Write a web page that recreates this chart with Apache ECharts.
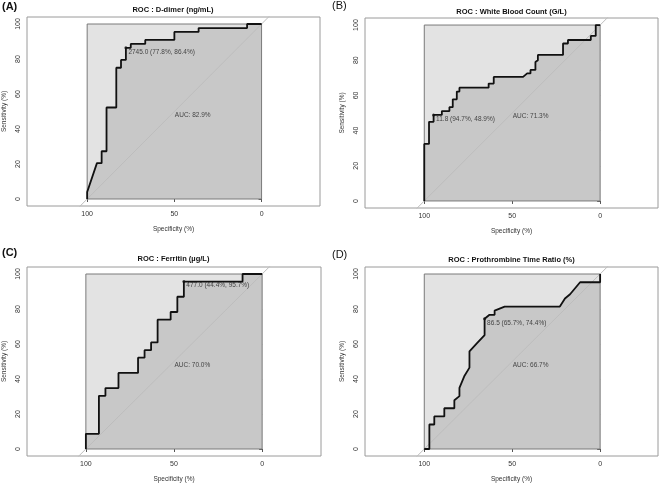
<!DOCTYPE html>
<html>
<head>
<meta charset="utf-8">
<title>ROC curves</title>
<script src="https://cdn.jsdelivr.net/npm/echarts@6/dist/echarts.min.js"></script>
<style>
  html, body { margin: 0; padding: 0; background: #fff; }
  #chart { width: 660px; height: 484px; }
</style>
</head>
<body>
<div id="chart"></div>
<script>
// panel labels / titles
const panelLabels = ['(A)', '(B)', '(C)', '(D)'];
const titles = [
  'ROC : D-dimer (ng/mL)',
  'ROC : White Blood Count (G/L)',
  'ROC : Ferritin (\u00b5g/L)',
  'ROC : Prothrombine Time Ratio (%)'
];

// ROC points: [specificity %, sensitivity %]
const rocDdimer = [
  [100, 0], [100, 4], [94.4, 20.5], [91.7, 20.5], [91.7, 27.3], [88.9, 27.3],
  [88.9, 52.3], [83.3, 52.3], [83.3, 75], [80.6, 75], [80.6, 79.5], [77.8, 79.5],
  [77.8, 86.4], [75, 86.4], [75, 88.6], [66.7, 88.6], [66.7, 90.9], [50, 90.9],
  [50, 95.5], [36.1, 95.5], [36.1, 97.7], [8.3, 97.7], [8.3, 100], [0, 100]
];
const rocWbc = [
  [100, 0], [100, 32.4], [97.3, 32.4], [97.3, 45], [94.7, 45], [94.7, 48.9],
  [90, 48.9], [90, 51.1], [85.7, 51.1], [85.7, 53.3], [83.8, 53.3], [83.8, 57.8],
  [81.5, 57.8], [81.5, 62.2], [80, 62.2], [80, 64.4], [63.4, 64.4], [63.4, 66.7],
  [60.5, 66.7], [60.5, 70.5], [43.8, 70.5], [41.5, 72.5], [39.6, 72.5], [39.6, 74.5],
  [36.8, 74.5], [36.8, 79], [35.4, 80], [35.4, 83], [21.1, 83], [21.1, 89.5],
  [18.3, 89.5], [18.3, 91.5], [5.3, 91.5], [5.3, 93.8], [2.5, 93.8], [2.5, 100], [0, 100]
];
const rocFerritin = [
  [100, 0], [100, 8.7], [92.6, 8.7], [92.6, 30.4], [88.9, 30.4], [88.9, 34.8],
  [81.5, 34.8], [81.5, 43.5], [70.4, 43.5], [70.4, 52.2], [66.7, 52.2], [66.7, 56.5],
  [63, 56.5], [63, 60.9], [59.3, 60.9], [59.3, 73.9], [51.9, 73.9], [51.9, 78.3],
  [48.1, 78.3], [48.1, 87], [44.4, 87], [44.4, 95.7], [11.1, 95.7], [11.1, 100], [0, 100]
];
const rocPt = [
  [100, 0], [97.1, 0], [97.1, 14], [94.3, 14], [94.3, 18.6], [88.6, 18.6],
  [88.6, 23.3], [82.9, 23.3], [82.9, 27.9], [80, 30.2], [80, 34.9], [77.1, 41.9],
  [74.3, 46.5], [74.3, 55.8], [70, 60.5], [65.7, 65.1], [65.7, 74.4], [62.9, 76.7],
  [60, 76.7], [60, 79.1], [54.3, 81.4], [22.9, 81.4], [20, 86], [17.1, 88.4],
  [11.4, 95.3], [0, 95.3], [0, 100]
];
const rocCurves = [rocDdimer, rocWbc, rocFerritin, rocPt];

// best thresholds and AUCs
const thresholdPoints = [[77.8, 86.4], [94.7, 48.9], [44.4, 95.7], [65.7, 74.4]];
const thresholdTexts = [
  '2745.0 (77.8%, 86.4%)',
  '11.8 (94.7%, 48.9%)',
  '477.0 (44.4%, 95.7%)',
  '86.5 (65.7%, 74.4%)'
];
const aucTexts = ['AUC: 82.9%', 'AUC: 71.3%', 'AUC: 70.0%', 'AUC: 66.7%'];
const aucAnchor = [50, 50];

const xTickValues = [0, 50, 100];
const yTickValues = [0, 20, 40, 60, 80, 100];
const identityLine = [[110, -10], [-10, 110]];
const boxTop = [[100, 100], [0, 100]];
const boxOutline = [[100, 0], [100, 100], [0, 100], [0, 0], [100, 0]];

// panel frames in px, and x range so that 1 unit is the same in x and y
const layout = [
  { left: 26, top: 17, width: 294, height: 189, xMin: -33.5, xMax: 134.5, lx: 2, ly: 7, titleY: 10, bold: true },
  { left: 365, top: 18, width: 293, height: 190, xMin: -32.9, xMax: 133.7, lx: 332, ly: 6, titleY: 12, bold: false },
  { left: 26, top: 267, width: 295, height: 191, xMin: -33.4, xMax: 133.4, lx: 2, ly: 253, titleY: 259, bold: true },
  { left: 365, top: 267, width: 293, height: 190, xMin: -32.9, xMax: 133.7, lx: 332, ly: 255, titleY: 260, bold: false }
];

const FONT = '"Liberation Sans", Arial, sans-serif';

const chart = echarts.init(document.getElementById('chart'));

const grids = [], xAxes = [], yAxes = [], series = [], graphics = [];

layout.forEach((p, i) => {
  grids.push({
    left: p.left, top: p.top, width: p.width, height: p.height,
    show: true, borderColor: '#9a9a9a', borderWidth: 1, backgroundColor: 'transparent'
  });
  xAxes.push({
    gridIndex: i, type: 'value', inverse: true, min: p.xMin, max: p.xMax,
    name: 'Specificity (%)', nameLocation: 'middle', nameGap: 20,
    nameTextStyle: { fontSize: 6.5, color: '#333', fontFamily: FONT },
    axisLine: { show: false },
    splitLine: { show: false },
    axisTick: { show: true, length: 3, customValues: xTickValues, lineStyle: { color: '#555' } },
    axisLabel: { customValues: xTickValues, fontSize: 7, color: '#333', margin: 5, fontFamily: FONT }
  });
  yAxes.push({
    gridIndex: i, type: 'value', min: -4, max: 104,
    name: 'Sensitivity (%)', nameLocation: 'middle', nameGap: 19, nameRotate: 90,
    nameTextStyle: { fontSize: 6.5, color: '#333', fontFamily: FONT },
    axisLine: { show: false },
    splitLine: { show: false },
    axisTick: { show: true, length: 3, customValues: yTickValues, lineStyle: { color: '#555' } },
    axisLabel: { customValues: yTickValues, rotate: 90, fontSize: 7, color: '#333', margin: 5, fontFamily: FONT }
  });

  const common = { xAxisIndex: i, yAxisIndex: i, silent: true, animation: false };

  // max-AUC box fill
  series.push(Object.assign({
    type: 'line', data: boxTop, symbol: 'none', z: 1,
    lineStyle: { width: 0 }, areaStyle: { color: '#e3e3e3', opacity: 1 }
  }, common));
  // AUC polygon
  series.push(Object.assign({
    type: 'line', data: rocCurves[i], symbol: 'none', z: 2,
    lineStyle: { width: 0 }, areaStyle: { color: '#c8c8c8', opacity: 1 }
  }, common));
  // identity line
  series.push(Object.assign({
    type: 'line', data: identityLine, symbol: 'none', z: 3,
    lineStyle: { width: 1, color: '#bdbdbd' }
  }, common));
  // box outline
  series.push(Object.assign({
    type: 'line', data: boxOutline, symbol: 'none', z: 4,
    lineStyle: { width: 1, color: '#7a7a7a' }
  }, common));
  // ROC curve
  series.push(Object.assign({
    type: 'line', data: rocCurves[i], symbol: 'none', z: 5,
    lineStyle: { width: 1.8, color: '#111' }
  }, common));
  // best threshold
  series.push(Object.assign({
    type: 'scatter', data: [thresholdPoints[i]], symbolSize: 3, z: 6,
    itemStyle: { color: '#111' },
    label: {
      show: true, formatter: thresholdTexts[i], position: 'right', distance: 1,
      offset: [0, 4], fontSize: 6.5, color: '#222', fontFamily: FONT
    }
  }, common));
  // AUC text
  series.push(Object.assign({
    type: 'scatter', data: [aucAnchor], symbolSize: 1, z: 6,
    itemStyle: { color: 'rgba(0,0,0,0)' },
    label: {
      show: true, formatter: aucTexts[i], position: 'right', distance: 0,
      offset: [0, 3.5], fontSize: 6.5, color: '#222', fontFamily: FONT
    }
  }, common));

  graphics.push({
    type: 'text', x: p.left + p.width / 2, y: p.titleY,
    style: { text: titles[i], align: 'center', verticalAlign: 'middle',
      font: 'bold 7.5px ' + FONT, fill: '#111' }
  });
  graphics.push({
    type: 'text', x: p.lx, y: p.ly,
    style: { text: panelLabels[i], align: 'left', verticalAlign: 'middle',
      font: (p.bold ? 'bold ' : '') + '11px ' + FONT, fill: '#111' }
  });
});

chart.setOption({
  backgroundColor: '#fff',
  animation: false,
  grid: grids,
  xAxis: xAxes,
  yAxis: yAxes,
  series: series,
  graphic: graphics
});

window.addEventListener('resize', () => chart.resize());
</script>
</body>
</html>
